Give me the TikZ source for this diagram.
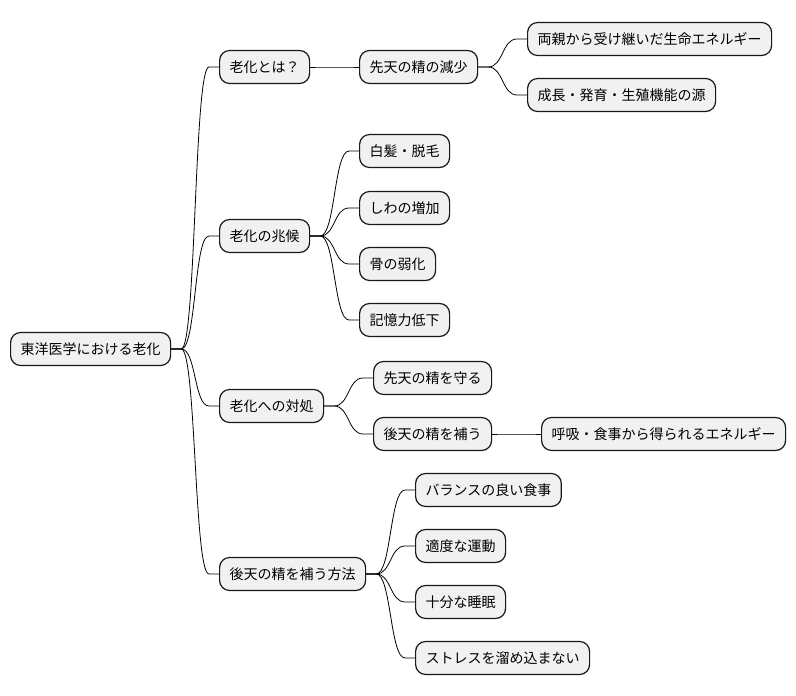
\documentclass[tikz,border=0pt]{standalone}
\usepackage{fontspec}
\setmainfont{Noto Sans CJK JP}
\usetikzlibrary{calc}
\definecolor{boxfill}{HTML}{F1F1F1}
\definecolor{boxline}{HTML}{181818}
\tikzset{
  mmbox/.style={draw=boxline, fill=boxfill, line width=1.2pt, rounded corners=10pt,
    anchor=west, inner xsep=10pt, inner ysep=0pt, minimum height=33pt,
    font=\fontsize{14}{16}\selectfont, text=black},
  mmline/.style={draw=black, line width=0.8pt}
}
\newcommand\mmconn[2]{\draw[mmline] (#1.east) -- ++(10pt,0)
  .. controls +(15pt,0) and +(-15pt,0) .. ($(#2.west)+(-10pt,0)$) -- (#2.west);}
\begin{document}
\begin{tikzpicture}[x=1pt,y=1pt]
\useasboundingbox (0,0) rectangle (796,696);
\node[mmbox] (root) at (10,696-349) {東洋医学における老化};
\node[mmbox] (a1) at (219,696-67) {老化とは？};
\node[mmbox] (a2) at (219,696-236) {老化の兆候};
\node[mmbox] (a3) at (219,696-406) {老化への対処};
\node[mmbox] (a4) at (219,696-574) {後天の精を補う方法};
\node[mmbox] (b1) at (359,696-67) {先天の精の減少};
\node[mmbox] (c1) at (527,696-39) {両親から受け継いだ生命エネルギー};
\node[mmbox] (c2) at (527,696-95) {成長・発育・生殖機能の源};
\node[mmbox] (b2) at (359,696-151) {白髪・脱毛};
\node[mmbox] (b3) at (359,696-208) {しわの増加};
\node[mmbox] (b4) at (359,696-264) {骨の弱化};
\node[mmbox] (b5) at (359,696-320) {記憶力低下};
\node[mmbox] (b6) at (373,696-378) {先天の精を守る};
\node[mmbox] (b7) at (373,696-434) {後天の精を補う};
\node[mmbox] (c3) at (541,696-434) {呼吸・食事から得られるエネルギー};
\node[mmbox] (b8) at (415,696-490) {バランスの良い食事};
\node[mmbox] (b9) at (415,696-546) {適度な運動};
\node[mmbox] (b10) at (415,696-602) {十分な睡眠};
\node[mmbox] (b11) at (415,696-658) {ストレスを溜め込まない};
\mmconn{root}{a1}
\mmconn{root}{a2}
\mmconn{root}{a3}
\mmconn{root}{a4}
\mmconn{a1}{b1}
\mmconn{b1}{c1}
\mmconn{b1}{c2}
\mmconn{a2}{b2}
\mmconn{a2}{b3}
\mmconn{a2}{b4}
\mmconn{a2}{b5}
\mmconn{a3}{b6}
\mmconn{a3}{b7}
\mmconn{b7}{c3}
\mmconn{a4}{b8}
\mmconn{a4}{b9}
\mmconn{a4}{b10}
\mmconn{a4}{b11}
\end{tikzpicture}
\end{document}
